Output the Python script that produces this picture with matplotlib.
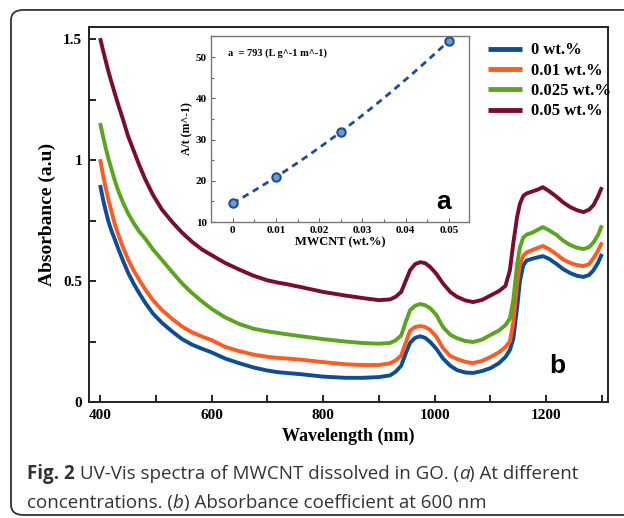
import matplotlib
matplotlib.use("Agg")
import matplotlib.pyplot as plt
import numpy as np
from matplotlib.patches import FancyBboxPatch
from matplotlib.ticker import MultipleLocator

# --- data ---
wavelength = [400, 405, 410, 415, 420, 427, 433, 440, 450, 460,
              470, 481, 495, 511, 530, 547, 565, 583, 600, 624,
              650, 675, 700, 720, 735, 760, 800, 840, 870, 900,
              920, 930, 940, 948, 956, 965, 974, 983, 992, 1003,
              1015, 1028, 1040, 1055, 1069, 1085, 1100, 1115, 1127, 1135,
              1141, 1148, 1153, 1159, 1165, 1175, 1185, 1194, 1205, 1219,
              1230, 1243, 1255, 1267, 1277, 1285, 1293, 1300]

abs_0 = [0.897, 0.84, 0.79, 0.745, 0.71, 0.668, 0.63, 0.59, 0.535, 0.49,
         0.45, 0.41, 0.365, 0.327, 0.29, 0.26, 0.237, 0.22, 0.205, 0.18,
         0.16, 0.143, 0.13, 0.123, 0.12, 0.115, 0.105, 0.10, 0.10, 0.103,
         0.11, 0.125, 0.15, 0.20, 0.245, 0.265, 0.272, 0.265, 0.248, 0.22,
         0.18, 0.15, 0.132, 0.122, 0.12, 0.128, 0.14, 0.16, 0.186, 0.215,
         0.26, 0.39, 0.50, 0.565, 0.585, 0.592, 0.598, 0.603, 0.592, 0.57,
         0.55, 0.533, 0.522, 0.517, 0.525, 0.545, 0.575, 0.612]
abs_001 = [1.004, 0.94, 0.885, 0.835, 0.79, 0.73, 0.69, 0.645, 0.59, 0.545,
           0.505, 0.465, 0.42, 0.38, 0.342, 0.312, 0.288, 0.27, 0.256, 0.228,
           0.21, 0.196, 0.187, 0.182, 0.18, 0.175, 0.165, 0.156, 0.153, 0.153,
           0.16, 0.172, 0.192, 0.245, 0.295, 0.31, 0.314, 0.31, 0.298, 0.27,
           0.223, 0.19, 0.178, 0.166, 0.161, 0.17, 0.186, 0.205, 0.227, 0.25,
           0.33, 0.49, 0.57, 0.605, 0.618, 0.628, 0.637, 0.645, 0.632, 0.61,
           0.59, 0.575, 0.566, 0.562, 0.57, 0.595, 0.625, 0.66]
abs_0025 = [1.153, 1.10, 1.05, 1.005, 0.965, 0.91, 0.87, 0.83, 0.78, 0.74,
            0.705, 0.675, 0.63, 0.587, 0.535, 0.49, 0.45, 0.415, 0.385, 0.35,
            0.322, 0.303, 0.292, 0.285, 0.28, 0.272, 0.26, 0.25, 0.244, 0.241,
            0.244, 0.255, 0.275, 0.33, 0.38, 0.398, 0.405, 0.40, 0.388, 0.36,
            0.31, 0.278, 0.264, 0.252, 0.248, 0.258, 0.277, 0.295, 0.318, 0.345,
            0.42, 0.57, 0.64, 0.68, 0.692, 0.70, 0.712, 0.723, 0.71, 0.69,
            0.668, 0.649, 0.638, 0.632, 0.64, 0.66, 0.69, 0.73]
abs_005 = [1.504, 1.455, 1.41, 1.365, 1.325, 1.27, 1.225, 1.175, 1.10, 1.04,
           0.98, 0.92, 0.855, 0.795, 0.742, 0.70, 0.662, 0.63, 0.607, 0.575,
           0.547, 0.522, 0.503, 0.493, 0.487, 0.475, 0.455, 0.44, 0.43, 0.421,
           0.424, 0.435, 0.455, 0.50, 0.545, 0.57, 0.578, 0.574, 0.558, 0.53,
           0.49, 0.455, 0.435, 0.42, 0.413, 0.422, 0.44, 0.458, 0.48, 0.545,
           0.655, 0.766, 0.82, 0.852, 0.862, 0.87, 0.878, 0.888, 0.872, 0.848,
           0.826, 0.806, 0.793, 0.785, 0.795, 0.814, 0.85, 0.888]

labels = ["0 wt.%", "0.01 wt.%", "0.025 wt.%", "0.05 wt.%"]
colors = ["#0d4d94", "#ff5a1f", "#5aa51f", "#7b0c2b"]

# inset: absorbance coefficient
mwcnt = [0, 0.01, 0.025, 0.05]
a_over_t = [14.5, 21.0, 31.8, 54.0]

serif = "Liberation Serif"
sans = "Liberation Sans"

fig = plt.figure(figsize=(6.24, 5.18), dpi=100)

# rounded frame around figure + caption
frame = FancyBboxPatch((0.0176, 0.0058), 1.05, 0.975,
                       boxstyle="round,pad=0,rounding_size=0.02",
                       transform=fig.transFigure, fill=False,
                       edgecolor="#333333", linewidth=1.3, clip_on=False)
fig.patches.append(frame)

ax = fig.add_axes([0.1426, 0.2239, 0.8318, 0.7240])
for y, lab, col in zip([abs_0, abs_001, abs_0025, abs_005], labels, colors):
    ax.plot(wavelength, y, color=col, lw=2.8, label=lab,
            solid_capstyle="butt", solid_joinstyle="round")

ax.set_xlim(380, 1311)
ax.set_ylim(0, 1.55)
ax.xaxis.set_major_locator(MultipleLocator(200))
ax.xaxis.set_minor_locator(MultipleLocator(100))
ax.yaxis.set_minor_locator(MultipleLocator(0.25))
ax.set_yticks([0, 0.5, 1, 1.5])
ax.set_yticklabels(["0", "0.5", "1", "1.5"])
ax.tick_params(which="both", direction="in", top=False, right=False, width=1.2)
ax.tick_params(which="major", length=5, labelsize=11, pad=5)
ax.tick_params(which="minor", length=5)
for t in ax.get_xticklabels() + ax.get_yticklabels():
    t.set_fontfamily(serif)
    t.set_fontweight("bold")
for s in ax.spines.values():
    s.set_linewidth(1.4)
    s.set_color("#222222")
ax.set_xlabel("Wavelength (nm)", fontfamily=serif, fontweight="bold", fontsize=13, labelpad=4)
ax.set_ylabel("Absorbance (a.u)", fontfamily=serif, fontweight="bold", fontsize=14, labelpad=5)

leg = ax.legend(loc="upper left", bbox_to_anchor=(0.769, 0.959), frameon=False,
                borderpad=0, borderaxespad=0, handlelength=2.05, handletextpad=0.55,
                labelspacing=0.26, prop={"family": serif, "weight": "bold", "size": 12})
for h in leg.get_lines():
    h.set_linewidth(3.5)

ax.text(0.903, 0.095, "b", transform=ax.transAxes, fontfamily=sans, fontweight="bold",
        fontsize=19, ha="center", va="center")

# inset
ins = fig.add_axes([0.3381, 0.5714, 0.4135, 0.3591])
coef = np.polyfit(mwcnt, a_over_t, 2)
xs = np.linspace(mwcnt[0], mwcnt[-1], 100)
ins.plot(xs, np.polyval(coef, xs), color="#1a4f96", lw=2.0, dashes=(2.4, 1.8))
ins.plot(mwcnt, a_over_t, "o", ms=6, mfc="#6d9bd6", mec="#1d4f91", mew=1.5)
ins.set_xlim(-0.005, 0.0546)
ins.set_ylim(10, 55.1)
ins.xaxis.set_minor_locator(MultipleLocator(0.005))
ins.yaxis.set_major_locator(MultipleLocator(10))
ins.yaxis.set_minor_locator(MultipleLocator(5))
ins.set_xticks([0, 0.01, 0.02, 0.03, 0.04, 0.05])
ins.set_xticklabels(["0", "0.01", "0.02", "0.03", "0.04", "0.05"])
ins.tick_params(which="both", direction="in", top=False, right=False, width=0.8,
                color="#666666")
ins.tick_params(which="major", length=3, labelsize=8, pad=3)
ins.tick_params(which="minor", length=2)
for t in ins.get_xticklabels() + ins.get_yticklabels():
    t.set_fontfamily(serif)
    t.set_fontweight("bold")
for s in ins.spines.values():
    s.set_linewidth(1.0)
    s.set_color("#777777")
ins.set_xlabel("MWCNT (wt.%)", fontfamily=serif, fontweight="bold", fontsize=9, labelpad=1)
ins.set_ylabel("A/t (m^-1)", fontfamily=serif, fontweight="bold", fontsize=8.5, labelpad=2)
ins.text(0.065, 0.905, "a  = 793 (L g^-1 m^-1)", transform=ins.transAxes,
         fontfamily=serif, fontweight="bold", fontsize=7.5, ha="left", va="center")
ins.text(0.90, 0.107, "a", transform=ins.transAxes, fontfamily=sans,
         fontweight="bold", fontsize=19, ha="center", va="center")

# caption, pieces placed one after another
fig.canvas.draw()
renderer = fig.canvas.get_renderer()


def caption_line(pieces, x0, y0):
    x = x0
    for txt, weight, style in pieces:
        t = fig.text(x, y0, txt, fontfamily="Open Sans", fontsize=13.5, color="#333333",
                     fontweight=weight, fontstyle=style, ha="left", va="center")
        bb = t.get_window_extent(renderer=renderer)
        x += bb.width / fig.bbox.width


caption_line([("Fig. 2", "bold", "normal"),
              (" UV-Vis spectra of MWCNT dissolved in GO. (", "normal", "normal"),
              ("a", "normal", "italic"),
              (") At different", "normal", "normal")], 27 / 624, 1 - 474 / 518)
caption_line([("concentrations. (", "normal", "normal"),
              ("b", "normal", "italic"),
              (") Absorbance coefficient at 600 nm", "normal", "normal")], 27 / 624, 1 - 503 / 518)

fig.savefig("out.png", dpi=100)
